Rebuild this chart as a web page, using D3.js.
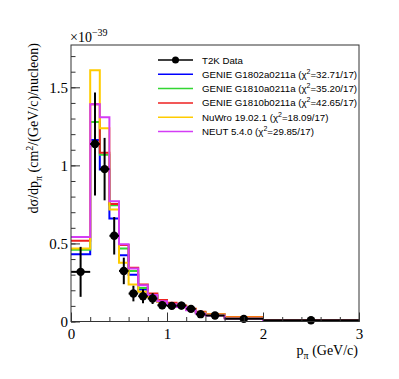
<!DOCTYPE html>
<html>
<head>
<meta charset="utf-8">
<script src="https://cdn.jsdelivr.net/npm/d3@7"></script>
<style>
  body { margin: 0; background: #fff; }
  svg { display: block; }
  .leg { font-family: "Liberation Sans", Arial, sans-serif; font-size: 9.7px; }
</style>
</head>
<body>
<svg id="chart" width="399" height="379"></svg>
<script>
// bin edges in GeV/c
var edges = [0, 0.2, 0.3, 0.4, 0.5, 0.6, 0.7, 0.8, 0.9, 1.0, 1.1, 1.2, 1.3, 1.4, 1.6, 2.0, 3.0];

// T2K data (units of 1e-39)
var dataVals = [0.318, 1.137, 0.976, 0.549, 0.324, 0.179, 0.162, 0.147, 0.104, 0.100, 0.102, 0.081, 0.047, 0.038, 0.017, 0.008];
var dataErrs = [0.16, 0.33, 0.20, 0.12, 0.085, 0.05, 0.045, 0.035, 0.025, 0.02, 0.025, 0.02, 0.012, 0.01, 0.005, 0.003];

// MC predictions
var genieA  = [0.430, 1.162, 0.974, 0.660, 0.425, 0.299, 0.205, 0.160, 0.125, 0.110, 0.095, 0.075, 0.057, 0.043, 0.024, 0.007];
var genieB  = [0.460, 1.278, 1.068, 0.745, 0.468, 0.324, 0.215, 0.165, 0.130, 0.112, 0.097, 0.078, 0.058, 0.044, 0.025, 0.007];
var genieC  = [0.517, 1.392, 1.081, 0.752, 0.490, 0.344, 0.237, 0.179, 0.137, 0.120, 0.102, 0.082, 0.062, 0.047, 0.029, 0.009];
var nuwro   = [0.468, 1.609, 1.237, 0.718, 0.376, 0.237, 0.190, 0.155, 0.125, 0.108, 0.095, 0.077, 0.058, 0.045, 0.025, 0.008];
var neut    = [0.542, 1.391, 1.308, 0.771, 0.494, 0.340, 0.232, 0.170, 0.130, 0.110, 0.093, 0.072, 0.052, 0.038, 0.019, 0.006];

var series = [
  {vals: genieA, color: "#0000ff", label: "GENIE G1802a0211a (", chi: "=32.71/17)"},
  {vals: genieB, color: "#33d633", label: "GENIE G1810a0211a (", chi: "=35.20/17)"},
  {vals: genieC, color: "#ee2020", label: "GENIE G1810b0211a (", chi: "=42.65/17)"},
  {vals: nuwro,  color: "#ffcc00", label: "NuWro 19.02.1 (", chi: "=18.09/17)"},
  {vals: neut,   color: "#d43cf5", label: "NEUT 5.4.0 (", chi: "=29.85/17)"}
];

var serif = "Liberation Serif, Times New Roman, serif";
var svg = d3.select("#chart");
var x = d3.scaleLinear().domain([0, 3]).range([71, 359]);
var y = d3.scaleLinear().domain([0, 1.771]).range([321.5, 45]);

// histograms
var line = d3.line().curve(d3.curveStepAfter)
  .x(function(d) { return x(d[0]); })
  .y(function(d) { return y(d[1]); });

series.forEach(function(s) {
  var pts = s.vals.map(function(v, i) { return [edges[i], v]; });
  pts.push([edges[edges.length - 1], s.vals[s.vals.length - 1]]);
  svg.append("path")
    .attr("d", line(pts))
    .attr("fill", "none")
    .attr("stroke", s.color)
    .attr("stroke-width", 2);
});

// data points
var pts = dataVals.map(function(v, i) {
  return {x0: edges[i], x1: edges[i + 1], xc: (edges[i] + edges[i + 1]) / 2, v: v, e: dataErrs[i]};
});
var g = svg.append("g");
pts.forEach(function(p) {
  g.append("line").attr("x1", x(p.x0)).attr("x2", x(p.x1))
    .attr("y1", y(p.v)).attr("y2", y(p.v))
    .attr("stroke", "#000").attr("stroke-width", 2);
  g.append("line").attr("x1", x(p.xc)).attr("x2", x(p.xc))
    .attr("y1", y(p.v + p.e)).attr("y2", y(p.v - p.e))
    .attr("stroke", "#000").attr("stroke-width", 2);
});
g.selectAll("circle").data(pts).enter().append("circle")
  .attr("cx", function(d) { return x(d.xc); })
  .attr("cy", function(d) { return y(d.v); })
  .attr("r", 4.2)
  .attr("fill", "#000");

// frame
svg.append("rect").attr("x", 71).attr("y", 45).attr("width", 288).attr("height", 276.5)
  .attr("fill", "none").attr("stroke", "#333").attr("stroke-width", 1);

// axes (ticks point inward, ROOT style)
var yAxis = svg.append("g").attr("transform", "translate(71,0)")
  .call(d3.axisLeft(y).tickValues([0, 0.5, 1, 1.5]).tickSize(-9).tickPadding(3)
    .tickFormat(function(d) { return String(d); }));
svg.append("g").attr("transform", "translate(71,0)")
  .call(d3.axisLeft(y).tickValues(d3.range(0, 1.75, 0.1)).tickSize(-4.5).tickFormat(""));

var xAxis = svg.append("g").attr("transform", "translate(0,321.5)")
  .call(d3.axisBottom(x).tickValues([0, 1, 2, 3]).tickSize(-9).tickPadding(5)
    .tickFormat(function(d) { return String(d); }));
svg.append("g").attr("transform", "translate(0,321.5)")
  .call(d3.axisBottom(x).tickValues(d3.range(0, 3.01, 0.2)).tickSize(-4.5).tickFormat(""));

svg.selectAll(".domain").remove();
svg.selectAll(".tick line").attr("stroke", "#333");
svg.selectAll(".tick text").attr("font-family", serif).attr("font-size", 15).attr("fill", "#000");
yAxis.selectAll(".tick text").attr("dy", "0.36em");
xAxis.selectAll(".tick text").attr("dy", "0.85em");

// exponent label
var ex = svg.append("text").attr("x", 70).attr("y", 42)
  .attr("font-family", serif).attr("font-size", 14);
ex.append("tspan").text("\u00d710");
ex.append("tspan").attr("dy", -6).attr("font-size", 10).text("\u221239");

// axis titles
var xt = svg.append("text").attr("x", 358).attr("y", 355).attr("text-anchor", "end")
  .attr("font-family", serif).attr("font-size", 14);
xt.append("tspan").text("p");
xt.append("tspan").attr("dy", 4).attr("font-size", 10).text("\u03c0");
xt.append("tspan").attr("dy", -4).text(" (GeV/c)");

var yt = svg.append("text").attr("transform", "translate(38,43) rotate(-90)")
  .attr("text-anchor", "end")
  .attr("font-family", serif).attr("font-size", 14);
yt.append("tspan").text("d\u03c3/dp");
yt.append("tspan").attr("dy", 4).attr("font-size", 10).text("\u03c0");
yt.append("tspan").attr("dy", -4).text(" (cm");
yt.append("tspan").attr("dy", -5).attr("font-size", 10).text("2");
yt.append("tspan").attr("dy", 5).text("/(GeV/c)/nucleon)");

// legend
var leg = svg.append("g").attr("class", "leg");
var rowY = function(i) { return 60 + i * 14.3; };
leg.append("line").attr("x1", 158).attr("x2", 193).attr("y1", rowY(0)).attr("y2", rowY(0))
  .attr("stroke", "#000").attr("stroke-width", 1.5);
leg.append("circle").attr("cx", 175.5).attr("cy", rowY(0)).attr("r", 3.5).attr("fill", "#000");
leg.append("text").attr("x", 202).attr("y", rowY(0) + 3.5).text("T2K Data");
series.forEach(function(s, i) {
  var yy = rowY(i + 1);
  leg.append("line").attr("x1", 158).attr("x2", 193).attr("y1", yy).attr("y2", yy)
    .attr("stroke", s.color).attr("stroke-width", 1.5);
  var t = leg.append("text").attr("x", 202).attr("y", yy + 3.5);
  t.append("tspan").text(s.label + "\u03c7");
  t.append("tspan").attr("dy", -4).attr("font-size", 7).text("2");
  t.append("tspan").attr("dy", 4).text(s.chi);
});
</script>
</body>
</html>
